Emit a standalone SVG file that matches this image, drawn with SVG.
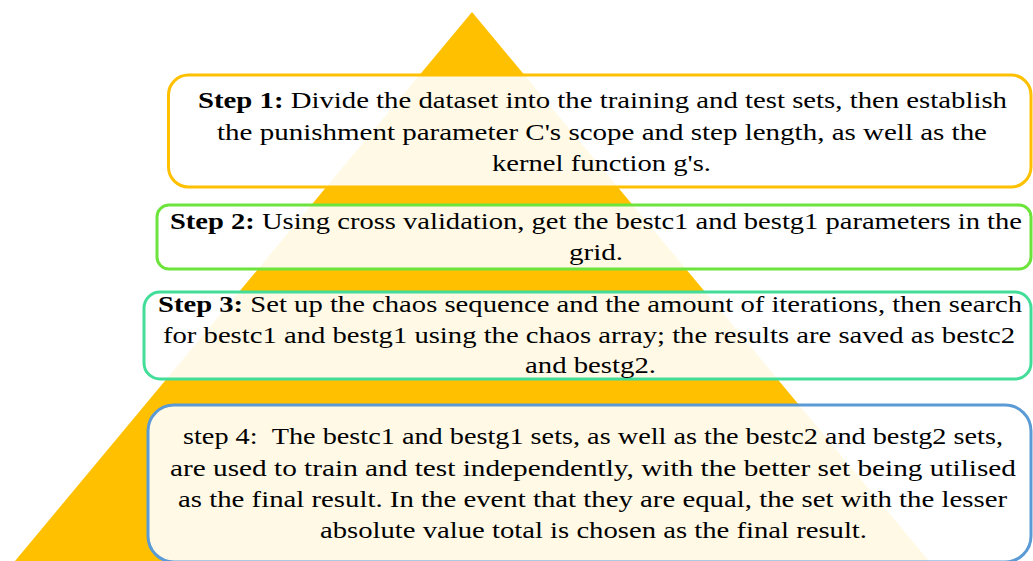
<svg xmlns="http://www.w3.org/2000/svg" width="1033" height="561" viewBox="0 0 1033 561">
  <style>
    .box { fill: #ffffff; fill-opacity: 0.9; stroke-width: 3; }
    .b1 { stroke: #ffc000; }
    .b2 { stroke: #6ce43c; }
    .b3 { stroke: #43dd9a; }
    .b4 { stroke: #5b9bd5; }
    .t { font-family: "Liberation Serif", "DejaVu Serif", serif; font-size: 24px; fill: #000000; }
    .bold { font-weight: bold; }
  </style>

  <!-- pyramid backdrop -->
  <g id="pyramid">
    <polygon points="472,12 929,561 15,561" fill="#ffc000"/>
  </g>

  <g id="connectors"/>

  <!-- step 1 -->
  <g id="step1">
    <rect class="box b1" x="168.5" y="75" width="862.5" height="112" rx="20" ry="20"/>
    <text class="t" x="198" y="108" textLength="809" lengthAdjust="spacingAndGlyphs"><tspan class="bold">Step 1:</tspan> Divide the dataset into the training and test sets, then establish</text>
    <text class="t" x="217" y="139.5" textLength="770" lengthAdjust="spacingAndGlyphs">the punishment parameter C's scope and step length, as well as the</text>
    <text class="t" x="492" y="171" textLength="219" lengthAdjust="spacingAndGlyphs">kernel function g's.</text>
  </g>

  <!-- step 2 -->
  <g id="step2">
    <rect class="box b2" x="157" y="205" width="874" height="64" rx="12" ry="12"/>
    <text class="t" x="170" y="228.5" textLength="852" lengthAdjust="spacingAndGlyphs"><tspan class="bold">Step 2:</tspan> Using cross validation, get the bestc1 and bestg1 parameters in the</text>
    <text class="t" x="569" y="260" textLength="54" lengthAdjust="spacingAndGlyphs">grid.</text>
  </g>

  <!-- step 3 -->
  <g id="step3">
    <rect class="box b3" x="144" y="292" width="887" height="87" rx="16" ry="16"/>
    <text class="t" x="158" y="312" textLength="864" lengthAdjust="spacingAndGlyphs"><tspan class="bold">Step 3:</tspan> Set up the chaos sequence and the amount of iterations, then search</text>
    <text class="t" x="163" y="343" textLength="852" lengthAdjust="spacingAndGlyphs">for bestc1 and bestg1 using the chaos array; the results are saved as bestc2</text>
    <text class="t" x="525" y="373" textLength="131" lengthAdjust="spacingAndGlyphs">and bestg2.</text>
  </g>

  <!-- step 4 -->
  <g id="step4">
    <rect class="box b4" x="148" y="405" width="883" height="157" rx="26" ry="26"/>
    <text class="t" x="183" y="444" textLength="820" lengthAdjust="spacingAndGlyphs">step 4: &#160;The bestc1 and bestg1 sets, as well as the bestc2 and bestg2 sets,</text>
    <text class="t" x="170" y="476" textLength="846" lengthAdjust="spacingAndGlyphs">are used to train and test independently, with the better set being utilised</text>
    <text class="t" x="178" y="507" textLength="829" lengthAdjust="spacingAndGlyphs">as the final result. In the event that they are equal, the set with the lesser</text>
    <text class="t" x="320" y="538" textLength="547" lengthAdjust="spacingAndGlyphs">absolute value total is chosen as the final result.</text>
  </g>
</svg>
